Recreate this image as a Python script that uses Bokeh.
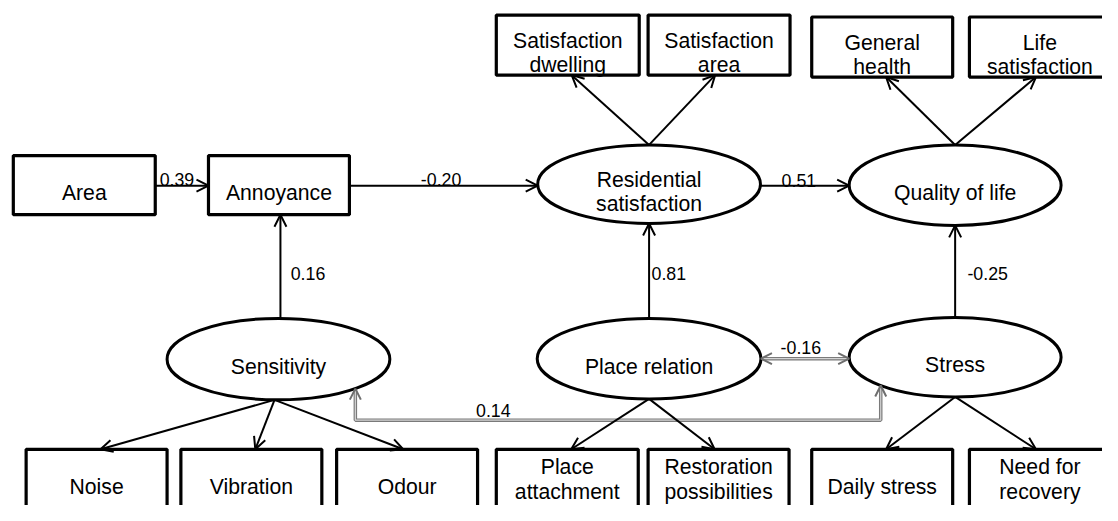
from bokeh.plotting import figure
from bokeh.models import ColumnDataSource, Arrow, OpenHead, Range1d
from bokeh.embed import file_html
from bokeh.resources import INLINE
from bokeh.core.properties import value

# ---------------- data ----------------
observed = ["Area", "Annoyance", "Satisfaction\ndwelling", "Satisfaction\narea",
            "General\nhealth", "Life\nsatisfaction", "Noise", "Vibration", "Odour",
            "Place\nattachment", "Restoration\npossibilities", "Daily stress",
            "Need for\nrecovery"]
latent = ["Sensitivity", "Residential\nsatisfaction", "Quality of life",
          "Place relation", "Stress"]

path_from = ["Area", "Annoyance", "Residential\nsatisfaction",
             "Sensitivity", "Place relation", "Stress"]
path_to = ["Annoyance", "Residential\nsatisfaction", "Quality of life",
           "Annoyance", "Residential\nsatisfaction", "Quality of life"]
path_coef = ["0.39", "-0.20", "0.51", "0.16", "0.81", "-0.25"]

cov_a = ["Place relation", "Sensitivity"]
cov_b = ["Stress", "Stress"]
cov_coef = ["-0.16", "0.14"]

load_factor = ["Residential\nsatisfaction", "Residential\nsatisfaction",
               "Quality of life", "Quality of life",
               "Sensitivity", "Sensitivity", "Sensitivity",
               "Place relation", "Place relation", "Stress", "Stress"]
load_item = ["Satisfaction\ndwelling", "Satisfaction\narea",
             "General\nhealth", "Life\nsatisfaction",
             "Noise", "Vibration", "Odour",
             "Place\nattachment", "Restoration\npossibilities",
             "Daily stress", "Need for\nrecovery"]

# ---------------- layout (pixel space of the picture) ----------------
box_geom = {  # left, right, top, bottom
    "Area": (13, 157, 160, 221),
    "Annoyance": (211, 354, 160, 221),
    "Satisfaction\ndwelling": (503, 648, 15, 77),
    "Satisfaction\narea": (657, 801, 15, 77),
    "General\nhealth": (823, 966, 17, 79),
    "Life\nsatisfaction": (983, 1126, 17, 79),
    "Noise": (26, 169, 463, 530),
    "Vibration": (183, 326, 463, 530),
    "Odour": (341, 484, 463, 530),
    "Place\nattachment": (503, 647, 463, 530),
    "Restoration\npossibilities": (657, 800, 463, 530),
    "Daily stress": (823, 966, 463, 530),
    "Need for\nrecovery": (983, 1126, 463, 530),
}
ell_geom = {  # cx, cy, width, height
    "Sensitivity": (282, 370, 226, 84),
    "Residential\nsatisfaction": (658, 189.5, 226, 81),
    "Quality of life": (968.5, 190.5, 215, 83),
    "Place relation": (658, 369.5, 227, 83),
    "Stress": (968.5, 368, 215, 82),
}
coef_pos = [(179, 185), (447, 184.5), (810, 185.5),
            (312, 281.5), (678, 281.5), (1001.5, 281.5)]
cov_pos = [(812, 358.5), (500, 422.5)]
cov_route_y = 433
cov_attach_dx = {"Sensitivity": 78, "Stress": -75.5}

FONT = "Liberation Sans"
LABEL_SIZE = "21.2px"
COEF_SIZE = "17.8px"


def node_box(name):
    if name in box_geom:
        return box_geom[name]
    cx, cy, w, h = ell_geom[name]
    return (cx - w / 2, cx + w / 2, cy - h / 2, cy + h / 2)


def node_center(name):
    l, r, t, b = node_box(name)
    return ((l + r) / 2, (t + b) / 2)


p = figure(width=1102, height=505, x_range=Range1d(0, 1118), y_range=Range1d(521, 0),
           x_axis_location=None, y_axis_location=None, toolbar_location=None,
           output_backend="svg", min_border=0, outline_line_color=None,
           background_fill_color="white", border_fill_color="white")
p.grid.visible = False

# ---- covariance paths (grey double lines) ----
cov_xs, cov_ys, head_src = [], [], dict(x0=[], y0=[], x1=[], y1=[])
for a, b in zip(cov_a, cov_b):
    if a == "Place relation":
        la, ra, ta, ba = node_box(a)
        lb, rb, tb, bb = node_box(b)
        y = node_center(a)[1]
        cov_xs.append([ra, lb]); cov_ys.append([y, y])
        head_src["x0"] += [(ra + lb) / 2, (ra + lb) / 2]
        head_src["y0"] += [y, y]
        head_src["x1"] += [ra, lb]
        head_src["y1"] += [y, y]
    else:
        pts = []
        for n in (a, b):
            cx, cy, w, h = ell_geom[n]
            dx = cov_attach_dx[n]
            yb = cy + h / 2 * (1 - (dx / (w / 2)) ** 2) ** 0.5
            pts.append((cx + dx, yb))
        cov_xs.append([pts[0][0], pts[0][0], pts[1][0], pts[1][0]])
        cov_ys.append([pts[0][1], cov_route_y, cov_route_y, pts[1][1]])
        for (px, py) in pts:
            head_src["x0"].append(px); head_src["y0"].append(cov_route_y)
            head_src["x1"].append(px); head_src["y1"].append(py)

p.multi_line(cov_xs, cov_ys, line_color="#7a7a7a", line_width=3.5)
p.multi_line(cov_xs, cov_ys, line_color="#d4d4d4", line_width=1.2)
p.add_layout(Arrow(source=ColumnDataSource(head_src), x_start="x0", y_start="y0",
                   x_end="x1", y_end="y1", line_alpha=0,
                   end=OpenHead(size=11, line_width=2, line_color="#6e6e6e")))

# ---- structural paths ----
ps = dict(x0=[], y0=[], x1=[], y1=[])
for f, t in zip(path_from, path_to):
    fl, fr, ft, fb = node_box(f)
    tl, tr, tt, tb = node_box(t)
    fcx, fcy = node_center(f)
    tcx, tcy = node_center(t)
    if abs(fcy - tcy) < 20:  # horizontal
        y = 191
        ps["x0"].append(fr); ps["y0"].append(y)
        ps["x1"].append(tl); ps["y1"].append(y)
    else:  # vertical, from below
        x = fcx + (2 if f == "Sensitivity" else 0)
        ps["x0"].append(x); ps["y0"].append(ft)
        ps["x1"].append(x); ps["y1"].append(tb)

# ---- loadings ----
for f, it in zip(load_factor, load_item):
    fcx, fcy = node_center(f)
    fl, fr, ft, fb = node_box(f)
    il, ir, itp, ib = node_box(it)
    icx = (il + ir) / 2
    sgn = 1 if fcx > icx else -1
    if itp < ft:  # item above
        ps["x0"].append(fcx); ps["y0"].append(ft)
        ps["x1"].append(icx + 4 * sgn); ps["y1"].append(ib)
    else:
        sx = fcx - 4 if f == "Sensitivity" else fcx
        ps["x0"].append(sx); ps["y0"].append(fb)
        ps["x1"].append(icx + 4 * sgn); ps["y1"].append(itp)

p.add_layout(Arrow(source=ColumnDataSource(ps), x_start="x0", y_start="y0",
                   x_end="x1", y_end="y1", line_width=2, line_color="black",
                   end=OpenHead(size=12, line_width=2, line_color="black")))

# ---- nodes ----
bl = [box_geom[n][0] for n in observed]
br = [box_geom[n][1] for n in observed]
bt = [box_geom[n][2] for n in observed]
bb = [box_geom[n][3] for n in observed]
p.quad(left=bl, right=br, top=bt, bottom=bb, fill_color="white",
       line_color="black", line_width=3.2)

p.ellipse(x=[ell_geom[n][0] for n in latent], y=[ell_geom[n][1] for n in latent],
          width=[ell_geom[n][2] for n in latent], height=[ell_geom[n][3] for n in latent],
          fill_color="white", line_color="black", line_width=3)

# ---- node labels ----
tx, ty, tt = [], [], []
for n in observed + latent:
    l, r, t, b = node_box(n)
    cx = (l + r) / 2
    cy = (t + b) / 2
    lines = n.split("\n")
    k = len(lines)
    if t > 400:
        cy = 494 if k == 1 else 486
    for i, line in enumerate(lines):
        tx.append(cx)
        ty.append(cy + (i - (k - 1) / 2) * 25.2 + 7.7)
        tt.append(line)
p.text(x=tx, y=ty, text=tt, text_font=value(FONT), text_font_size=LABEL_SIZE,
       text_align="center", text_baseline="alphabetic", text_color="black")

# ---- coefficients ----
p.text(x=[c[0] for c in coef_pos] + [c[0] for c in cov_pos],
       y=[c[1] for c in coef_pos] + [c[1] for c in cov_pos],
       text=path_coef + cov_coef, text_font=value(FONT), text_font_size=COEF_SIZE,
       text_align="center", text_baseline="alphabetic", text_color="black")

open("out.html", "w").write(file_html(p, INLINE))
